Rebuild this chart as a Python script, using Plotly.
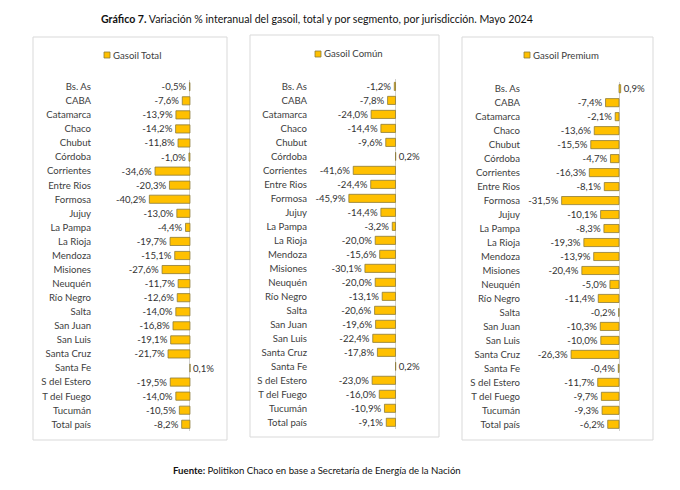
import plotly.graph_objects as go

W, H = 680, 490

provincias = ["Bs. As", "CABA", "Catamarca", "Chaco", "Chubut", "Córdoba", "Corrientes",
              "Entre Rios", "Formosa", "Jujuy", "La Pampa", "La Rioja", "Mendoza", "Misiones",
              "Neuquén", "Río Negro", "Salta", "San Juan", "San Luis", "Santa Cruz", "Santa Fe",
              "S del Estero", "T del Fuego", "Tucumán", "Total país"]

gasoil_total = [-0.5, -7.6, -13.9, -14.2, -11.8, -1.0, -34.6, -20.3, -40.2, -13.0, -4.4,
                -19.7, -15.1, -27.6, -11.7, -12.6, -14.0, -16.8, -19.1, -21.7, 0.1,
                -19.5, -14.0, -10.5, -8.2]
gasoil_comun = [-1.2, -7.8, -24.0, -14.4, -9.6, 0.2, -41.6, -24.4, -45.9, -14.4, -3.2,
                -20.0, -15.6, -30.1, -20.0, -13.1, -20.6, -19.6, -22.4, -17.8, 0.2,
                -23.0, -16.0, -10.9, -9.1]
gasoil_premium = [0.9, -7.4, -2.1, -13.6, -15.5, -4.7, -16.3, -8.1, -31.5, -10.1, -8.3,
                  -19.3, -13.9, -20.4, -5.0, -11.4, -0.2, -10.3, -10.0, -26.3, -0.4,
                  -11.7, -9.7, -9.3, -6.2]

series_names = ["Gasoil Total", "Gasoil Común", "Gasoil Premium"]
series_values = [gasoil_total, gasoil_comun, gasoil_premium]

FONT = "Lato, Roboto, sans-serif"
GOLD = "#FFC000"
EDGE = "#8C7B3A"
LBL = "#404040"
FS = 9.6

def px_x(p):
    return p / W

def px_y(p):
    return 1 - p / H

panels = [
    dict(box=(33, 37, 227, 440), dom=(94, 224), rng=(-95.0, 33.7), yt=79.7, yb=431.3, leg=(104, 55)),
    dict(box=(250, 35, 439, 437), dom=(310, 436), rng=(-84.1, 39.8), yt=79.4, yb=429.3, leg=(315, 54)),
    dict(box=(462, 37, 653, 440), dom=(523, 650), rng=(-52.7, 17.0), yt=81.7, yb=431.3, leg=(524, 55)),
]

fig = go.Figure()
shapes = []
annotations = []

for i, (name, vals, pn) in enumerate(zip(series_names, series_values, panels)):
    sfx = "" if i == 0 else str(i + 1)
    fig.add_trace(go.Bar(
        x=vals, y=provincias, orientation="h", name=name,
        marker=dict(color=GOLD, line=dict(color=EDGE, width=0.8)),
        width=0.58,
        texttemplate="%{x:.1f}%", textposition="outside", constraintext="none",
        cliponaxis=False,
        textfont=dict(family=FONT, size=FS, color="#333333"),
        xaxis="x" + sfx, yaxis="y" + sfx, showlegend=False,
    ))
    fig.layout["xaxis" + sfx] = dict(
        domain=[px_x(pn["dom"][0]), px_x(pn["dom"][1])], range=list(pn["rng"]),
        showgrid=False, showticklabels=False, zeroline=True, zerolinecolor="#D0D0D0",
        zerolinewidth=1, anchor="y" + sfx, fixedrange=True,
    )
    fig.layout["yaxis" + sfx] = dict(
        domain=[px_y(pn["yb"]), px_y(pn["yt"])], autorange="reversed",
        showgrid=False, zeroline=False, showline=False, ticks="",
        tickfont=dict(family=FONT, size=FS, color=LBL),
        anchor="x" + sfx, type="category", ticklabelstandoff=2,
    )
    l, t, r, b = pn["box"]
    shapes.append(dict(type="rect", xref="paper", yref="paper",
                       x0=px_x(l), x1=px_x(r), y0=px_y(b), y1=px_y(t),
                       line=dict(color="#D9D9D9", width=1), fillcolor="rgba(0,0,0,0)", layer="below"))
    lx, ly = pn["leg"]
    shapes.append(dict(type="rect", xref="paper", yref="paper",
                       x0=px_x(lx), x1=px_x(lx + 6), y0=px_y(ly + 3), y1=px_y(ly - 3),
                       line=dict(color=EDGE, width=0.8), fillcolor=GOLD))
    annotations.append(dict(text=name, xref="paper", yref="paper", x=px_x(lx + 7), y=px_y(ly),
                            xanchor="left", yanchor="middle", showarrow=False,
                            font=dict(family=FONT, size=FS, color=LBL)))

annotations.append(dict(
    text="<b>Gráfico 7.</b> Variación % interanual del gasoil, total y por segmento, por jurisdicción. Mayo 2024",
    xref="paper", yref="paper", x=px_x(317), y=px_y(19), xanchor="center", yanchor="middle",
    showarrow=False, font=dict(family=FONT, size=10.6, color="#111111")))
annotations.append(dict(
    text="<b>Fuente:</b> Politikon Chaco en base a Secretaría de Energía de la Nación",
    xref="paper", yref="paper", x=px_x(317), y=px_y(470), xanchor="center", yanchor="middle",
    showarrow=False, font=dict(family=FONT, size=9.6, color="#111111")))

fig.update_layout(
    width=W, height=H, margin=dict(l=0, r=0, t=0, b=0),
    paper_bgcolor="white", plot_bgcolor="white",
    separators=",.", shapes=shapes, annotations=annotations,
    showlegend=False,
)

fig.write_html("out.html", config={"displayModeBar": False},
               post_script="document.body.style.margin='0';")
